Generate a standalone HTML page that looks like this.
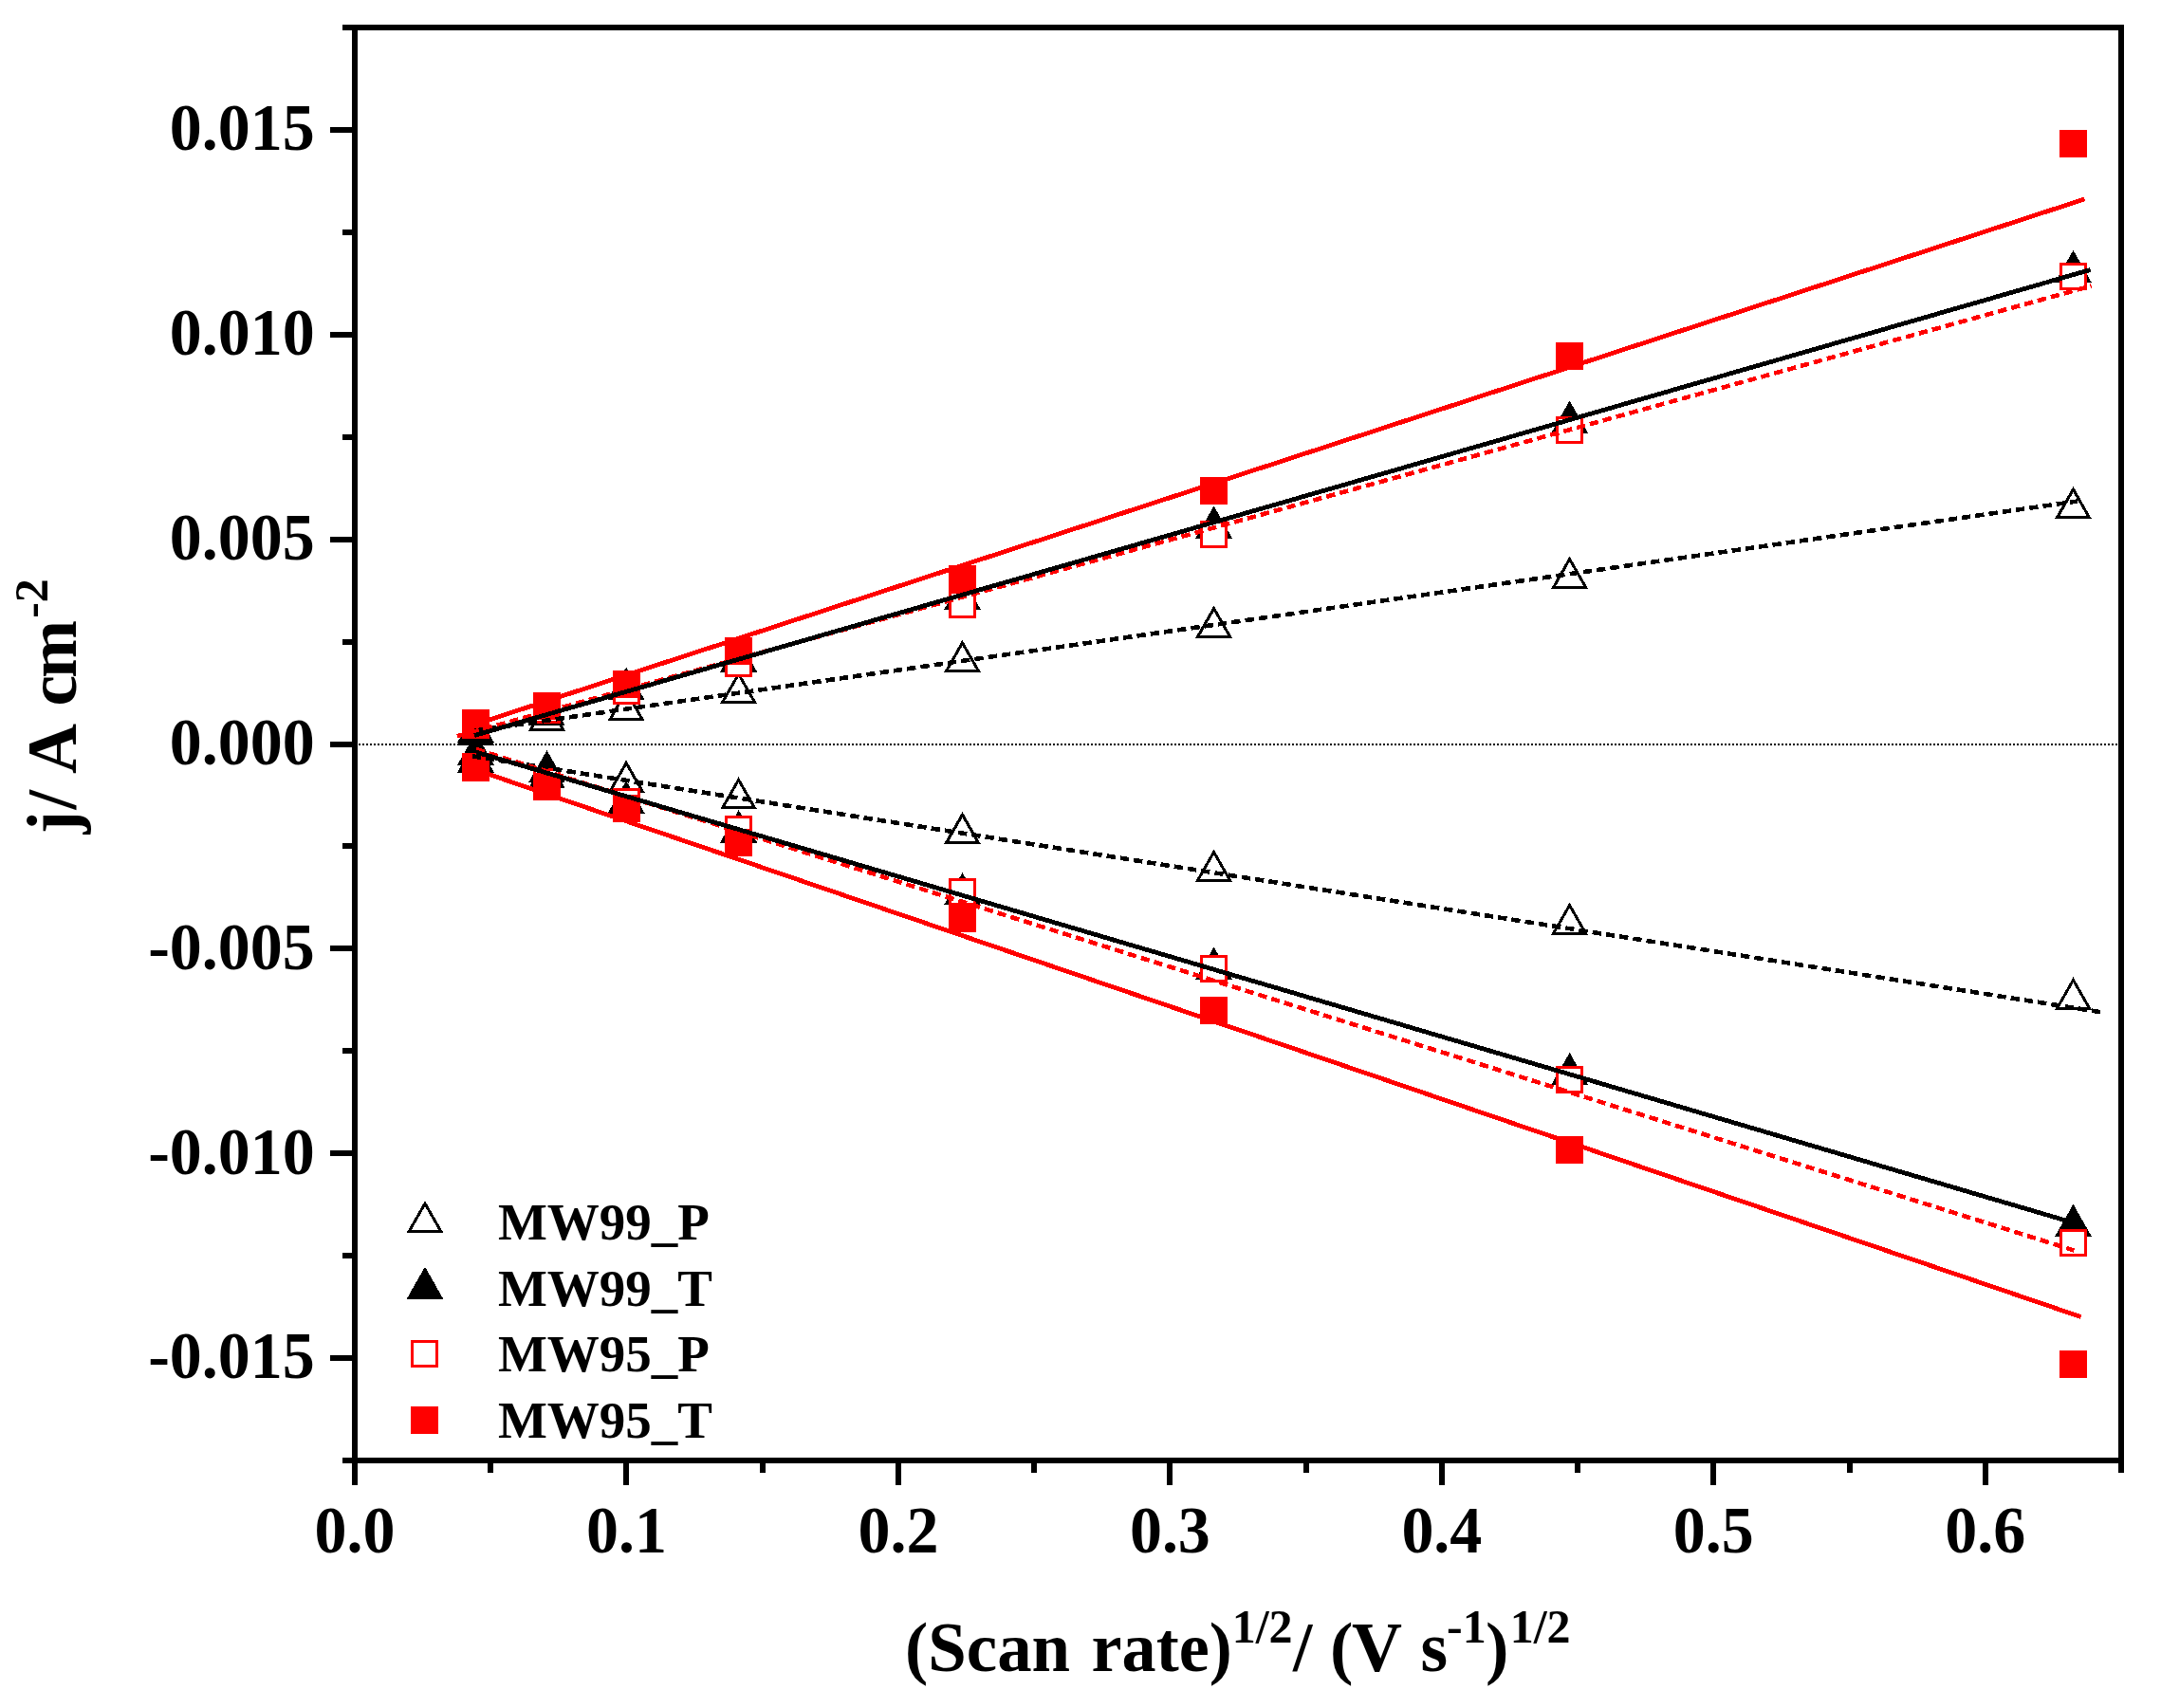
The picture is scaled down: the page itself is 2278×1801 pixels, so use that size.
<!DOCTYPE html>
<html lang="en"><head><meta charset="utf-8"><title>j vs (Scan rate)^1/2</title>
<style>html,body{margin:0;padding:0;background:#fff;}body{width:2278px;height:1801px;overflow:hidden;}svg{display:block;}text{font-family:"Liberation Serif","Times New Roman",serif;font-weight:bold;fill:#000;}</style>
</head><body>
<svg width="2278" height="1801" viewBox="0 0 2278 1801" shape-rendering="crispEdges">
<rect x="0" y="0" width="2278" height="1801" fill="#fff"/>
<line x1="378" y1="785" x2="2233" y2="785" stroke="#000" stroke-width="2" stroke-dasharray="2 2"/>
<g>
<polygon points="501.5,752.0 484.6,781.6 518.4,781.6" fill="#fff" stroke="#000" stroke-width="3" stroke-linejoin="miter"/>
<polygon points="576.5,739.6 559.6,769.2 593.4,769.2" fill="#fff" stroke="#000" stroke-width="3" stroke-linejoin="miter"/>
<polygon points="660.1,728.9 643.2,758.5 677.0,758.5" fill="#fff" stroke="#000" stroke-width="3" stroke-linejoin="miter"/>
<polygon points="778.6,710.7 761.7,740.3 795.5,740.3" fill="#fff" stroke="#000" stroke-width="3" stroke-linejoin="miter"/>
<polygon points="1014.5,677.8 997.6,707.4 1031.4,707.4" fill="#fff" stroke="#000" stroke-width="3" stroke-linejoin="miter"/>
<polygon points="1279.6,641.6 1262.7,671.2 1296.5,671.2" fill="#fff" stroke="#000" stroke-width="3" stroke-linejoin="miter"/>
<polygon points="1654.6,589.6 1637.7,619.2 1671.5,619.2" fill="#fff" stroke="#000" stroke-width="3" stroke-linejoin="miter"/>
<polygon points="2185.5,516.0 2168.6,545.6 2202.4,545.6" fill="#fff" stroke="#000" stroke-width="3" stroke-linejoin="miter"/>
<polygon points="501.5,783.5 484.6,813.1 518.4,813.1" fill="#fff" stroke="#000" stroke-width="3" stroke-linejoin="miter"/>
<polygon points="576.5,794.2 559.6,823.8 593.4,823.8" fill="#fff" stroke="#000" stroke-width="3" stroke-linejoin="miter"/>
<polygon points="660.1,804.5 643.2,834.1 677.0,834.1" fill="#fff" stroke="#000" stroke-width="3" stroke-linejoin="miter"/>
<polygon points="778.6,822.3 761.7,851.9 795.5,851.9" fill="#fff" stroke="#000" stroke-width="3" stroke-linejoin="miter"/>
<polygon points="1014.5,859.0 997.6,888.6 1031.4,888.6" fill="#fff" stroke="#000" stroke-width="3" stroke-linejoin="miter"/>
<polygon points="1279.6,898.5 1262.7,928.1 1296.5,928.1" fill="#fff" stroke="#000" stroke-width="3" stroke-linejoin="miter"/>
<polygon points="1654.6,954.5 1637.7,984.1 1671.5,984.1" fill="#fff" stroke="#000" stroke-width="3" stroke-linejoin="miter"/>
<polygon points="2185.5,1033.4 2168.6,1063.0 2202.4,1063.0" fill="#fff" stroke="#000" stroke-width="3" stroke-linejoin="miter"/>
<polygon points="501.5,751.2 482.0,785.6 521.0,785.6" fill="#000"/>
<polygon points="576.5,731.0 557.0,765.4 596.0,765.4" fill="#000"/>
<polygon points="660.1,703.7 640.6,738.1 679.6,738.1" fill="#000"/>
<polygon points="778.6,674.1 759.1,708.5 798.1,708.5" fill="#000"/>
<polygon points="1014.5,608.6 995.0,643.0 1034.0,643.0" fill="#000"/>
<polygon points="1279.6,533.4 1260.1,567.8 1299.1,567.8" fill="#000"/>
<polygon points="1654.6,422.4 1635.1,456.8 1674.1,456.8" fill="#000"/>
<polygon points="2185.5,263.9 2166.0,298.3 2205.0,298.3" fill="#000"/>
<polygon points="501.5,772.4 482.0,806.8 521.0,806.8" fill="#000"/>
<polygon points="576.5,797.0 557.0,831.4 596.0,831.4" fill="#000"/>
<polygon points="660.1,823.1 640.6,857.5 679.6,857.5" fill="#000"/>
<polygon points="778.6,854.1 759.1,888.5 798.1,888.5" fill="#000"/>
<polygon points="1014.5,920.0 995.0,954.4 1034.0,954.4" fill="#000"/>
<polygon points="1279.6,998.4 1260.1,1032.8 1299.1,1032.8" fill="#000"/>
<polygon points="1654.6,1109.9 1635.1,1144.3 1674.1,1144.3" fill="#000"/>
<polygon points="2185.5,1269.7 2166.0,1304.1 2205.0,1304.1" fill="#000"/>
<rect x="488.5" y="751.5" width="26" height="26" fill="#fff" stroke="#f00" stroke-width="3"/>
<rect x="563.5" y="735.5" width="26" height="26" fill="#fff" stroke="#f00" stroke-width="3"/>
<rect x="647.5" y="715.5" width="26" height="26" fill="#fff" stroke="#f00" stroke-width="3"/>
<rect x="765.5" y="686.5" width="26" height="26" fill="#fff" stroke="#f00" stroke-width="3"/>
<rect x="1001.5" y="624.5" width="26" height="26" fill="#fff" stroke="#f00" stroke-width="3"/>
<rect x="1266.5" y="550.5" width="26" height="26" fill="#fff" stroke="#f00" stroke-width="3"/>
<rect x="1641.5" y="440.5" width="26" height="26" fill="#fff" stroke="#f00" stroke-width="3"/>
<rect x="2172.5" y="278.5" width="26" height="26" fill="#fff" stroke="#f00" stroke-width="3"/>
<rect x="488.5" y="795.5" width="26" height="26" fill="#fff" stroke="#f00" stroke-width="3"/>
<rect x="563.5" y="811.5" width="26" height="26" fill="#fff" stroke="#f00" stroke-width="3"/>
<rect x="647.5" y="832.5" width="26" height="26" fill="#fff" stroke="#f00" stroke-width="3"/>
<rect x="765.5" y="861.5" width="26" height="26" fill="#fff" stroke="#f00" stroke-width="3"/>
<rect x="1001.5" y="927.5" width="26" height="26" fill="#fff" stroke="#f00" stroke-width="3"/>
<rect x="1266.5" y="1008.5" width="26" height="26" fill="#fff" stroke="#f00" stroke-width="3"/>
<rect x="1641.5" y="1125.5" width="26" height="26" fill="#fff" stroke="#f00" stroke-width="3"/>
<rect x="2172.5" y="1297.5" width="26" height="26" fill="#fff" stroke="#f00" stroke-width="3"/>
<rect x="487" y="748" width="29" height="29" fill="#f00"/>
<rect x="562" y="730" width="29" height="29" fill="#f00"/>
<rect x="646" y="707" width="29" height="29" fill="#f00"/>
<rect x="764" y="672" width="29" height="29" fill="#f00"/>
<rect x="1000" y="596" width="29" height="29" fill="#f00"/>
<rect x="1265" y="503" width="29" height="29" fill="#f00"/>
<rect x="1640" y="361" width="29" height="29" fill="#f00"/>
<rect x="2171" y="137" width="29" height="29" fill="#f00"/>
<rect x="487" y="795" width="29" height="29" fill="#f00"/>
<rect x="562" y="815" width="29" height="29" fill="#f00"/>
<rect x="646" y="838" width="29" height="29" fill="#f00"/>
<rect x="764" y="874" width="29" height="29" fill="#f00"/>
<rect x="1000" y="954" width="29" height="29" fill="#f00"/>
<rect x="1265" y="1051" width="29" height="29" fill="#f00"/>
<rect x="1640" y="1198" width="29" height="29" fill="#f00"/>
<rect x="2171" y="1424" width="29" height="29" fill="#f00"/>
</g>
<g>
<line x1="500.0" y1="770.6" x2="2190.0" y2="528.5" stroke="#000" stroke-width="4.6" stroke-dasharray="9.3 5.1" shape-rendering="crispEdges"/>
<line x1="498.0" y1="797.4" x2="2213.9" y2="1067.1" stroke="#000" stroke-width="4.6" stroke-dasharray="9.3 5.1" shape-rendering="crispEdges"/>
<line x1="482.0" y1="776.3" x2="2204.6" y2="301.5" stroke="#f00" stroke-width="4.6" stroke-dasharray="9.3 5.1" shape-rendering="crispEdges"/>
<line x1="502.0" y1="790.1" x2="2186.3" y2="1318.5" stroke="#f00" stroke-width="4.6" stroke-dasharray="9.3 5.1" shape-rendering="crispEdges"/>
<line x1="490.0" y1="767.4" x2="2197.6" y2="209.9" stroke="#f00" stroke-width="4.8" shape-rendering="crispEdges"/>
<line x1="494.0" y1="809.2" x2="2193.7" y2="1388.6" stroke="#f00" stroke-width="4.8" shape-rendering="crispEdges"/>
<line x1="500.0" y1="775.5" x2="2203.7" y2="284.4" stroke="#000" stroke-width="4.8" shape-rendering="crispEdges"/>
<line x1="502.0" y1="793.1" x2="2186.0" y2="1289.4" stroke="#000" stroke-width="4.8" shape-rendering="crispEdges"/>
</g>
<g fill="#000">
<rect x="371" y="26" width="1868" height="6"/>
<rect x="371" y="1537" width="1868" height="6"/>
<rect x="371" y="26" width="6" height="1517"/>
<rect x="2233" y="26" width="6" height="1517"/>
<rect x="371" y="1543" width="6" height="23"/>
<rect x="514" y="1543" width="6" height="10"/>
<rect x="657" y="1543" width="6" height="23"/>
<rect x="801" y="1543" width="6" height="10"/>
<rect x="944" y="1543" width="6" height="23"/>
<rect x="1087" y="1543" width="6" height="10"/>
<rect x="1230" y="1543" width="6" height="23"/>
<rect x="1374" y="1543" width="6" height="10"/>
<rect x="1517" y="1543" width="6" height="23"/>
<rect x="1660" y="1543" width="6" height="10"/>
<rect x="1803" y="1543" width="6" height="23"/>
<rect x="1947" y="1543" width="6" height="10"/>
<rect x="2090" y="1543" width="6" height="23"/>
<rect x="2233" y="1543" width="6" height="10"/>
<rect x="361" y="1537" width="10" height="6"/>
<rect x="348" y="1429" width="23" height="6"/>
<rect x="361" y="1321" width="10" height="6"/>
<rect x="348" y="1213" width="23" height="6"/>
<rect x="361" y="1105" width="10" height="6"/>
<rect x="348" y="997" width="23" height="6"/>
<rect x="361" y="889" width="10" height="6"/>
<rect x="348" y="782" width="23" height="6"/>
<rect x="361" y="674" width="10" height="6"/>
<rect x="348" y="566" width="23" height="6"/>
<rect x="361" y="458" width="10" height="6"/>
<rect x="348" y="350" width="23" height="6"/>
<rect x="361" y="242" width="10" height="6"/>
<rect x="348" y="134" width="23" height="6"/>
<rect x="361" y="26" width="10" height="6"/>
</g>
<g>
<text transform="translate(374.00,1637.00) scale(0.978,1)" font-size="69.5" text-anchor="middle">0.0</text>
<text transform="translate(660.46,1637.00) scale(0.978,1)" font-size="69.5" text-anchor="middle">0.1</text>
<text transform="translate(946.92,1637.00) scale(0.978,1)" font-size="69.5" text-anchor="middle">0.2</text>
<text transform="translate(1233.38,1637.00) scale(0.978,1)" font-size="69.5" text-anchor="middle">0.3</text>
<text transform="translate(1519.85,1637.00) scale(0.978,1)" font-size="69.5" text-anchor="middle">0.4</text>
<text transform="translate(1806.31,1637.00) scale(0.978,1)" font-size="69.5" text-anchor="middle">0.5</text>
<text transform="translate(2092.77,1637.00) scale(0.978,1)" font-size="69.5" text-anchor="middle">0.6</text>
<text transform="translate(331.70,1453.47) scale(0.978,1)" font-size="69.5" text-anchor="end">-0.015</text>
<text transform="translate(331.70,1237.61) scale(0.978,1)" font-size="69.5" text-anchor="end">-0.010</text>
<text transform="translate(331.70,1021.76) scale(0.978,1)" font-size="69.5" text-anchor="end">-0.005</text>
<text transform="translate(331.70,805.90) scale(0.978,1)" font-size="69.5" text-anchor="end">0.000</text>
<text transform="translate(331.70,590.04) scale(0.978,1)" font-size="69.5" text-anchor="end">0.005</text>
<text transform="translate(331.70,374.19) scale(0.978,1)" font-size="69.5" text-anchor="end">0.010</text>
<text transform="translate(331.70,158.33) scale(0.978,1)" font-size="69.5" text-anchor="end">0.015</text>
</g>
<g>
<polygon points="448.0,1269.0 431.1,1298.6 464.9,1298.6" fill="#fff" stroke="#000" stroke-width="3" stroke-linejoin="miter"/>
<polygon points="448.0,1335.7 428.5,1370.1 467.5,1370.1" fill="#000"/>
<rect x="434.5" y="1414.5" width="26" height="26" fill="#fff" stroke="#f00" stroke-width="3"/>
<rect x="433" y="1483" width="29" height="29" fill="#f00"/>
</g>
<g>
<text transform="translate(524.90,1307.00)" font-size="55">MW99_P</text>
<text transform="translate(524.90,1376.50)" font-size="55">MW99_T</text>
<text transform="translate(524.90,1446.00)" font-size="55">MW95_P</text>
<text transform="translate(524.90,1515.80)" font-size="55">MW95_T</text>
</g>
<g>
<text transform="translate(954.10,1762.00) scale(0.971,1)" font-size="75">(Scan</text>
<text transform="translate(1150.60,1762.00) scale(0.962,1)" font-size="75">rate)</text>
<text transform="translate(1298.70,1731.90)" font-size="50">1/2</text>
<text transform="translate(1363.00,1762.00) scale(0.978,1)" font-size="75">/</text>
<text transform="translate(1402.10,1762.00) scale(0.978,1)" font-size="75" letter-spacing="-1.5">(V</text>
<text transform="translate(1497.50,1762.00) scale(0.978,1)" font-size="75">s</text>
<text transform="translate(1525.00,1731.90)" font-size="50">-1</text>
<text transform="translate(1566.00,1762.00) scale(0.978,1)" font-size="75">)</text>
<text transform="translate(1591.70,1731.90)" font-size="50">1/2</text>
<text transform="translate(79.60,879.60) rotate(-90) scale(0.978,1)" font-size="75" letter-spacing="1.8">j/</text>
<text transform="translate(79.60,816.10) rotate(-90) scale(0.978,1)" font-size="75">A</text>
<text transform="translate(79.60,744.40) rotate(-90) scale(0.978,1)" font-size="75" letter-spacing="-3.1">cm</text>
<text transform="translate(50.20,651.80) rotate(-90)" font-size="50">-2</text>
</g>
</svg></body></html>
